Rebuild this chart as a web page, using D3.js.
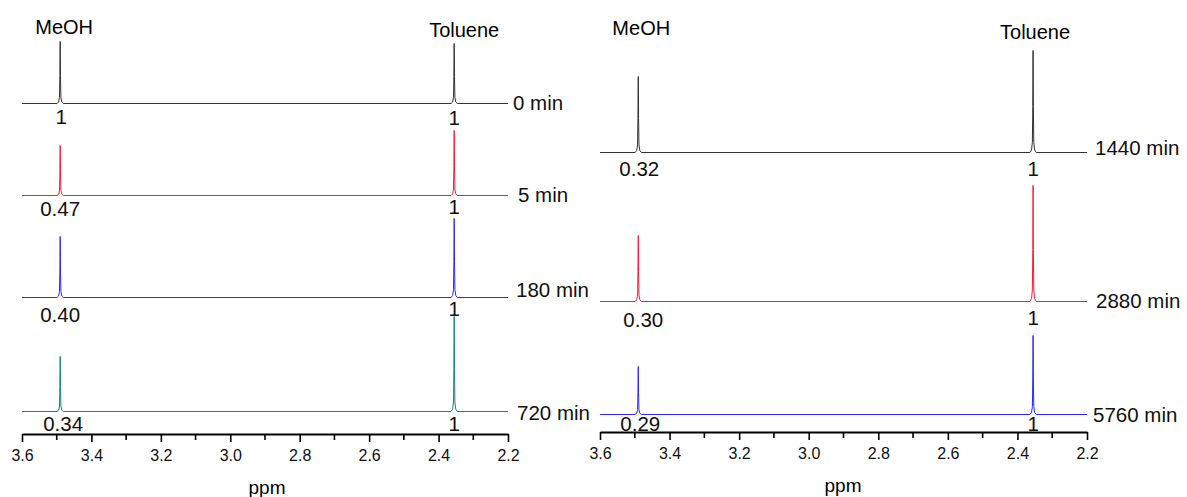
<!DOCTYPE html>
<html>
<head>
<meta charset="utf-8">
<script src="https://cdn.jsdelivr.net/npm/d3@7/dist/d3.min.js"></script>
<style>
  html, body { margin: 0; padding: 0; background: #fff; }
  svg { display: block; font-family: "Liberation Sans", Arial, sans-serif; }
  .axis path.domain { stroke: #000; stroke-width: 2; }
  .axis line { stroke: #000; stroke-width: 1.6; }
</style>
</head>
<body>
<svg id="chart" width="1187" height="497"></svg>
<script>
// ---- data ----------------------------------------------------------------
const ppmMajorTicks = [3.6, 3.4, 3.2, 3.0, 2.8, 2.6, 2.4, 2.2];
const ppmMinorTicks = [3.5, 3.3, 3.1, 2.9, 2.7, 2.5, 2.3];
const ppmDomain = [3.6, 2.2];

const peakNames = ["MeOH", "Toluene"];
const peakShifts = [3.49, 2.355];          // ppm

// left stack
const timesA = ["0 min", "5 min", "180 min", "720 min"];
const meohHeightA = [62, 50, 61, 55];      // peak intensity (a.u.)
const tolHeightA = [60, 65, 79, 95];
const meohIntegralA = [1, 0.47, 0.40, 0.34];
const tolIntegralA = [1, 1, 1, 1];

// right stack
const timesB = ["1440 min", "2880 min", "5760 min"];
const meohHeightB = [76, 66, 48];
const tolHeightB = [102, 116, 79];
const meohIntegralB = [0.32, 0.30, 0.29];
const tolIntegralB = [1, 1, 1];

// ---- styling / layout ----------------------------------------------------
const colorsA = ["#333333", "#f2203a", "#2a2af0", "#13857c"];
const colorsB = ["#333333", "#f2203a", "#2a2af0"];

const panels = [
  {
    x0: 22, x1: 508, axisY: 434,
    rowBase: [103.5, 195.5, 297.5, 411.5],
    times: timesA, meoh: meohHeightA, tol: tolHeightA,
    meohInt: meohIntegralA, tolInt: tolIntegralA, colors: colorsA,
    nameY: [34, 37], nameDx: [4, 10],
    timeX: [513, 518, 516, 517], timeY: [110, 202, 297, 420],
    meohIntY: [124, 216, 322, 431], meohIntDx: [1, 0, 0, 3],
    tolIntY: [125, 214, 316, 431],
    ppmX: 267, ppmY: 494
  },
  {
    x0: 600, x1: 1087, axisY: 432,
    rowBase: [152.5, 301.5, 414.5],
    times: timesB, meoh: meohHeightB, tol: tolHeightB,
    meohInt: meohIntegralB, tolInt: tolIntegralB, colors: colorsB,
    nameY: [35, 39], nameDx: [3, 2],
    timeX: [1095, 1096, 1093], timeY: [155, 308, 422],
    meohIntY: [176, 327, 431], meohIntDx: [1, 5, 2],
    tolIntY: [176, 325, 431],
    ppmX: 843, ppmY: 492
  }
];

const svg = d3.select("#chart");
const fmtInt = v => (v === 1 ? "1" : d3.format(".2f")(v));

// Narrow lineshape (ppm offset, fraction of height) used for each resonance.
const shape = [
  [0.009, 0], [0.0045, 0.025], [0.002, 0.1], [0.0009, 0.45], [0.0002, 1],
  [-0.0002, 1], [-0.0009, 0.45], [-0.002, 0.1], [-0.0045, 0.025], [-0.009, 0]
];

function spectrumPoints(heights) {
  // heights: [MeOH, toluene]; spectrum runs from high to low ppm
  const pts = [[ppmDomain[0], 0]];
  peakShifts.forEach((p, i) => {
    shape.forEach(([dp, f]) => pts.push([p + dp, f * heights[i]]));
  });
  pts.push([ppmDomain[1], 0]);
  return pts;
}

panels.forEach(P => {
  const x = d3.scaleLinear().domain(ppmDomain).range([P.x0, P.x1]);
  const g = svg.append("g");

  // stacked spectra
  P.times.forEach((t, r) => {
    const y = d3.scaleLinear().domain([0, 100]).range([P.rowBase[r], P.rowBase[r] - 100]);
    const line = d3.line().x(d => x(d[0])).y(d => y(d[1]));
    g.append("path")
      .attr("d", line(spectrumPoints([P.meoh[r], P.tol[r]])))
      .attr("fill", "none")
      .attr("stroke", P.colors[r])
      .attr("stroke-width", 1)
      .attr("stroke-linejoin", "round");

    // time label
    g.append("text")
      .attr("x", P.timeX[r]).attr("y", P.timeY[r])
      .attr("font-size", 20.5).attr("fill", "#111")
      .text(t);

    // integrals
    g.append("text")
      .attr("x", x(peakShifts[0]) + P.meohIntDx[r]).attr("y", P.meohIntY[r])
      .attr("text-anchor", "middle").attr("font-size", 20.5).attr("fill", "#111")
      .text(fmtInt(P.meohInt[r]));
    g.append("text")
      .attr("x", x(peakShifts[1])).attr("y", P.tolIntY[r])
      .attr("text-anchor", "middle").attr("font-size", 20.5).attr("fill", "#111")
      .text(fmtInt(P.tolInt[r]));
  });

  // peak names
  peakNames.forEach((n, i) => {
    g.append("text")
      .attr("x", x(peakShifts[i]) + P.nameDx[i]).attr("y", P.nameY[i])
      .attr("text-anchor", "middle").attr("font-size", 20).attr("fill", "#000")
      .text(n);
  });

  // ppm axis
  const axis = d3.axisBottom(x)
    .tickValues(ppmMajorTicks)
    .tickFormat(d3.format(".1f"))
    .tickSize(8).tickSizeOuter(0).tickPadding(8);
  const ag = g.append("g").attr("class", "axis")
    .attr("transform", `translate(0,${P.axisY})`)
    .call(axis);
  ag.selectAll(".tick text")
    .attr("fill", "#111")
    .style("font-size", "16px")
    .style("font-family", "'Liberation Sans', Arial, sans-serif");
  ag.selectAll(".minor").data(ppmMinorTicks).enter().append("line")
    .attr("class", "minor")
    .attr("x1", d => x(d)).attr("x2", d => x(d))
    .attr("y1", 0).attr("y2", 6);

  g.append("text")
    .attr("x", P.ppmX).attr("y", P.ppmY)
    .attr("text-anchor", "middle").attr("font-size", 19).attr("fill", "#000")
    .text("ppm");
});
</script>
</body>
</html>
